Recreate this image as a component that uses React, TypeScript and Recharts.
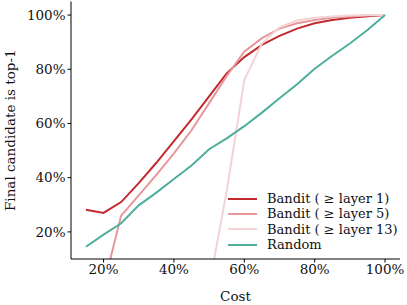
import React from "react";
import { LineChart, Line, XAxis, YAxis } from "recharts";

// cost on the x axis, percent
const costs = [15, 20, 25, 30, 35, 40, 45, 50, 55, 60, 65, 70, 75, 80, 85, 90, 95, 100];

// share of runs whose final candidate is the top-1, percent
const banditLayer1 = [28.2, 27, 31, 38, 45.5, 53.5, 61.5, 70, 78.5, 84.5, 89, 92.3, 95, 97, 98.2, 99, 99.6, 100];
const banditLayer5 = [null, 0, 26, 33.5, 41, 49, 57.5, 67.5, 77.5, 86.5, 91.5, 95, 97, 98.2, 99, 99.5, 99.8, 100];
const banditLayer13 = [null, null, null, null, null, null, null, 0, 35, 76, 89.5, 95.5, 98, 99, 99.5, 99.8, 100, 100];
const random = [14.5, 19, 23.2, 29.8, 34.5, 39.5, 44.5, 50.5, 54.5, 59, 64, 69.3, 74.5, 80.2, 85, 89.5, 94.5, 100];

const xTicks = [20, 40, 60, 80, 100];
const yTicks = [20, 40, 60, 80, 100];

const series = [
  { key: "l1", name: "Bandit ( \u2265 layer 1)", values: banditLayer1, color: "#c22a2f" },
  { key: "l5", name: "Bandit ( \u2265 layer 5)", values: banditLayer5, color: "#e7979a" },
  { key: "l13", name: "Bandit ( \u2265 layer 13)", values: banditLayer13, color: "#f5d3d4" },
  { key: "rnd", name: "Random", values: random, color: "#4fae9c" },
];

const data = costs.map((c, i) => {
  const row: Record<string, number | null> = { cost: c };
  series.forEach(s => { row[s.key] = s.values[i]; });
  return row;
});

const font = "'DejaVu Serif', serif";
const textColor = "#111";
const pct = (v: number) => `${v}%`;

const LegendBox = () => (
  <div style={{ position: "absolute", left: 228, top: 191, fontFamily: font, fontSize: 13, color: textColor }}>
    {series.map(s => (
      <div key={s.key} style={{ display: "flex", alignItems: "center", height: 15.3, whiteSpace: "nowrap" }}>
        <svg width={39} height={6}>
          <line x1={0} x2={29} y1={3} y2={3} stroke={s.color} strokeWidth={2} />
        </svg>
        <span>{s.name}</span>
      </div>
    ))}
  </div>
);

export default function App() {
  return (
    <div style={{ position: "absolute", left: 0, top: 0, width: 407, height: 305, background: "#fff" }}>
      <LineChart width={407} height={305} data={data} margin={{ top: 1.5, right: 7, bottom: 16, left: 0 }}>
        <XAxis
          dataKey="cost"
          type="number"
          domain={[10.75, 104.25]}
          ticks={xTicks}
          tickFormatter={pct}
          allowDataOverflow
          height={30}
          stroke="#000"
          tickSize={3.5}
          tick={{ fill: textColor, fontSize: 13.5, fontFamily: font }}
          label={{ value: "Cost", position: "insideBottom", offset: -12, style: { fill: textColor, fontSize: 13.5, fontFamily: font } }}
        />
        <YAxis
          type="number"
          domain={[10, 105]}
          ticks={yTicks}
          tickFormatter={pct}
          allowDataOverflow
          width={71}
          stroke="#000"
          tickSize={3.5}
          tick={{ fill: textColor, fontSize: 13.5, fontFamily: font }}
          label={{ value: "Final candidate is top-1", angle: -90, position: "insideLeft", offset: 10, style: { textAnchor: "middle", fill: textColor, fontSize: 13.5, fontFamily: font } }}
        />
        {series.map(s => (
          <Line
            key={s.key}
            dataKey={s.key}
            name={s.name}
            stroke={s.color}
            strokeWidth={2}
            dot={false}
            type="linear"
            isAnimationActive={false}
          />
        ))}
      </LineChart>
      <LegendBox />
    </div>
  );
}
